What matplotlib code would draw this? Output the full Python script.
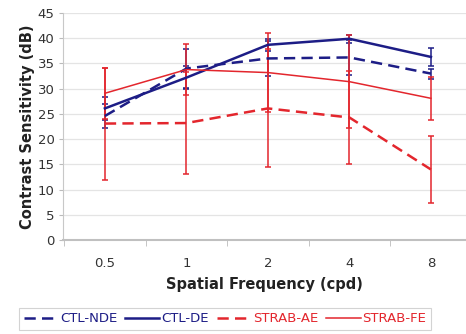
import numpy as np
import matplotlib.pyplot as plt

# Spatial frequency categories (cpd)
freqs = ['0.5', '1', '2', '4', '8']

# Mean contrast sensitivity (dB) for each group
ctl_nde = [24.6, 34.0, 36.0, 36.2, 33.0]
ctl_de = [26.1, 32.2, 38.7, 39.9, 36.3]
strab_ae = [23.1, 23.2, 26.1, 24.3, 14.0]
strab_fe = [29.1, 33.8, 33.2, 31.4, 28.1]

# Error bar half-lengths
err_nde = [2.4, 3.8, 3.5, 3.5, 1.0]
err_de = [2.3, 2.3, 1.2, 0.8, 1.7]
err_ae = [11.1, 10.1, 11.7, 9.3, 6.6]
err_fe = [5.1, 5.0, 7.8, 9.2, 4.3]

navy = '#1d1d86'
red = '#e3262d'

fig = plt.figure(figsize=(4.66, 3.34), dpi=100)
ax = fig.add_axes([0.135, 0.281, 0.865, 0.68])

x = np.arange(len(freqs))

series = [
    (ctl_nde, err_nde, 'CTL-NDE', navy, (0, (4.5, 2.5)), 1.8),
    (ctl_de, err_de, 'CTL-DE', navy, '-', 1.8),
    (strab_ae, err_ae, 'STRAB-AE', red, (0, (4.5, 2.5)), 1.8),
    (strab_fe, err_fe, 'STRAB-FE', red, '-', 1.1),
]

handles = []
for vals, err, name, col, ls, lw in series:
    ax.errorbar(x, vals, yerr=err, fmt='none', ecolor=col, elinewidth=1.1,
                capsize=2.2, capthick=1.1, zorder=2)
    h, = ax.plot(x, vals, color=col, linestyle=ls, linewidth=lw, label=name,
                 zorder=3)
    handles.append(h)

ax.set_ylim(0, 45)
ax.set_yticks(np.arange(0, 46, 5))
ax.set_xlim(-0.515, 4.43)
ax.set_xticks(x)
ax.set_xticklabels(freqs)
ax.set_xticks(np.arange(-0.5, 4.0, 1.0), minor=True)
ax.tick_params(axis='x', which='major', length=0, pad=12, labelsize=9.5,
               labelcolor='#333333')
ax.tick_params(axis='x', which='minor', length=4, color='#bbbbbb')
ax.tick_params(axis='y', length=3, color='#bbbbbb', labelsize=9.5,
               labelcolor='#333333', pad=3)

ax.yaxis.grid(True, color='#e4e4e4', linewidth=0.9)
ax.set_axisbelow(True)
for s in ['top', 'right']:
    ax.spines[s].set_visible(False)
ax.spines['left'].set_color('#c8c8c8')
ax.spines['bottom'].set_color('#c0c0c0')
ax.spines['bottom'].set_linewidth(1.5)

ax.set_ylabel('Contrast Sensitivity (dB)', fontsize=10.5, fontweight='bold',
              color='#222222', labelpad=2)
ax.set_xlabel('Spatial Frequency (cpd)', fontsize=10.5, fontweight='bold',
              color='#222222', labelpad=5)

leg = fig.legend(handles=handles, loc='center', bbox_to_anchor=(0.483, 0.046),
                 ncol=4, fontsize=9.5, frameon=True, fancybox=False,
                 handlelength=2.6, handletextpad=0.15, columnspacing=0.6,
                 borderpad=0.35)
leg.get_frame().set_edgecolor('#c8c8c8')
leg.get_frame().set_linewidth(0.8)
for t, h in zip(leg.get_texts(), handles):
    t.set_color(h.get_color())

fig.savefig('out.png', dpi=100)
